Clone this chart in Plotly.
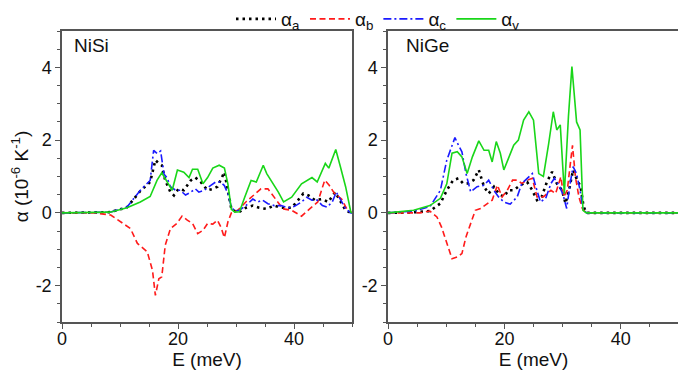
import plotly.graph_objects as go

# ---------------- NiSi (left panel) ----------------
nisi_a_E = [0, 5, 8.3, 11.2, 13.5, 15.2, 16.1, 16.7, 17.2, 17.8, 18.7, 19.3, 20.1, 21, 22.2, 23, 23.9, 25.1, 26, 26.8, 28, 28.6, 29.2, 30.3, 31.7, 32.9, 34, 35.2, 36.6, 37.8, 39.6, 40.7, 41.6, 42.5, 43.6, 44.8, 45.9, 47.1, 48, 48.9, 49.8, 50]
nisi_a = [0, 0, 0.02, 0.15, 0.6, 0.85, 1.45, 1.36, 1.31, 0.89, 0.57, 0.48, 0.66, 0.62, 0.89, 0.97, 0.85, 0.62, 0.66, 0.72, 1.12, 0.62, 0.11, 0, 0.14, 0.2, 0.14, 0.11, 0.2, 0.14, 0.14, 0.35, 0.53, 0.48, 0.35, 0.38, 0.3, 0.57, 0.3, 0.07, 0, 0]

nisi_b_E = [0, 5.6, 8.4, 10.1, 11.8, 13, 14.7, 15.6, 16.1, 16.7, 17.2, 17.8, 18.7, 19.8, 20.7, 21.6, 22.5, 23.4, 24.3, 25.1, 26, 26.8, 27.4, 28, 28.6, 29.2, 30.3, 31.7, 33.1, 34.3, 35.5, 36.6, 38.1, 39.6, 41.3, 42.7, 44.1, 45.3, 46.1, 47, 48.2, 49.1, 50]
nisi_b = [0, 0, -0.06, -0.25, -0.43, -0.84, -1.07, -1.58, -2.27, -1.81, -1.76, -0.89, -0.43, -0.29, -0.09, -0.2, -0.29, -0.57, -0.48, -0.29, -0.31, -0.2, -0.39, -0.68, -0.25, 0, 0.07, 0.3, 0.48, 0.66, 0.66, 0.43, 0.11, 0.07, -0.09, 0.11, 0.3, 0.9, 0.75, 0.53, 0.38, 0.11, 0]

nisi_c_E = [0, 5, 8.3, 11.2, 13.5, 15.2, 15.8, 16.4, 17, 17.6, 18.1, 18.7, 19.6, 20.4, 21.3, 22.2, 23, 23.6, 24.5, 25.6, 26.5, 27.3, 28, 28.6, 29.2, 29.8, 30.6, 31.7, 32.9, 33.7, 34.6, 35.5, 36.6, 37.8, 39, 40.1, 41.3, 42.2, 43.1, 44, 44.9, 45.7, 46.6, 47.3, 48, 48.9, 49.8, 50]
nisi_c = [0, 0, 0.02, 0.16, 0.62, 0.89, 1.72, 1.63, 1.7, 1.06, 0.97, 0.72, 0.62, 0.62, 0.49, 0.57, 0.66, 0.57, 0.62, 0.75, 0.85, 0.85, 0.75, 0.53, 0.16, 0.05, 0.07, 0.2, 0.38, 0.3, 0.35, 0.25, 0.2, 0.2, 0.14, 0.18, 0.3, 0.43, 0.35, 0.35, 0.2, 0.16, 0.3, 0.57, 0.38, 0.11, 0, 0]

nisi_v_E = [0, 5, 8.3, 11.2, 13.5, 15.2, 16.4, 17.2, 19, 19.9, 21, 21.9, 22.5, 23.4, 24.3, 25.1, 26, 27.1, 28, 28.6, 29.2, 29.8, 30.6, 31.5, 32.6, 33.5, 34.7, 35.3, 36.1, 37.3, 38.2, 39.6, 41.3, 42.2, 43.1, 44, 45.4, 46, 47.2, 48, 48.9, 49.8, 50]
nisi_v = [0, 0, 0.02, 0.14, 0.3, 0.45, 0.9, 1.1, 0.62, 1.18, 1.12, 0.97, 1.2, 1.2, 0.8, 0.97, 1.23, 1.31, 1.23, 0.8, 0.1, 0.02, 0.03, 0.43, 0.89, 0.85, 1.31, 1.08, 0.89, 0.57, 0.3, 0.43, 0.8, 0.89, 0.97, 0.85, 1.36, 1.23, 1.74, 1.27, 0.72, 0.02, 0]

# ---------------- NiGe (right panel) ----------------
nige_a_E = [0, 4, 7.2, 9, 10.1, 11.2, 12.1, 12.9, 13.8, 14.7, 15.6, 16.5, 17.3, 18.2, 19, 19.9, 20.7, 21.6, 22.7, 23.9, 24.8, 25.6, 26.4, 27.3, 28.2, 29, 29.9, 30.5, 31.1, 31.8, 32.5, 33.1, 33.6, 34.1, 50]
nige_a = [0, 0.01, 0.05, 0.26, 0.62, 0.9, 0.95, 0.81, 0.81, 0.9, 1.18, 0.72, 0.53, 0.72, 0.53, 0.44, 0.62, 0.62, 0.76, 0.85, 0.62, 0.35, 0.44, 0.85, 1.13, 0.81, 0.62, 0.26, 0.62, 1.18, 0.9, 0.72, 0.17, 0, 0]

nige_b_E = [0, 5.5, 7.2, 8.4, 9.2, 10.1, 11, 11.9, 12.7, 13.4, 14.2, 15, 15.9, 17, 17.9, 18.8, 19.6, 20.5, 21.4, 22.2, 23, 23.9, 24.8, 25.6, 26.7, 28, 28.8, 29.7, 30.2, 30.8, 31.4, 31.7, 32.2, 32.8, 33.4, 34, 50]
nige_b = [0, 0, 0.05, -0.11, -0.39, -0.84, -1.26, -1.21, -1.12, -0.66, -0.29, 0.07, 0.12, 0.26, 0.35, 0.76, 0.44, 0.62, 0.9, 0.9, 0.81, 0.9, 0.95, 0.44, 0.44, 0.62, 0.53, 0.99, 0.44, 0.62, 1.45, 1.86, 0.99, 0.44, 0.12, 0, 0]

nige_c_E = [0, 4.4, 7.2, 9, 10.1, 11.5, 12.1, 12.7, 13.4, 14.2, 15.3, 16.5, 17.3, 18.2, 19, 19.9, 21, 22.2, 23, 23.9, 24.8, 25.4, 26.2, 27.1, 28, 28.6, 29.5, 30.1, 30.7, 31.3, 31.8, 32.4, 33, 33.5, 34.1, 50]
nige_c = [0, 0.05, 0.17, 0.62, 1.45, 2.07, 1.86, 1.68, 1.08, 0.58, 0.72, 0.76, 0.9, 0.62, 0.44, 0.3, 0.24, 0.44, 0.81, 0.95, 1.08, 0.72, 0.3, 0.4, 0.81, 0.95, 0.72, 0.49, 0.12, 0.81, 1.27, 1.08, 0.62, 0.12, 0, 0]

nige_v_E = [0, 4.4, 7.2, 9, 10.1, 11, 11.9, 12.7, 13.6, 14.5, 15.6, 16.5, 17.3, 17.9, 18.6, 19.3, 19.9, 20.7, 21.6, 22.4, 23.3, 24.2, 25, 25.9, 26.7, 27.6, 28.4, 29, 29.6, 30.3, 31, 31.6, 32.4, 33, 33.5, 34.1, 50]
nige_v = [0, 0.07, 0.2, 0.4, 0.8, 1.64, 1.68, 1.54, 1.08, 1.54, 1.98, 1.72, 1.72, 1.4, 1.96, 1.64, 1.18, 1.5, 1.86, 2.0, 2.55, 2.78, 2.55, 1.08, 1.0, 1.9, 2.78, 2.28, 2.42, 0.53, 2.64, 4.02, 2.5, 2.28, 0.07, 0, 0]

series_names = ["α<sub>a</sub>", "α<sub>b</sub>", "α<sub>c</sub>", "α<sub>v</sub>"]
panel_labels = ["NiSi", "NiGe"]
y_tickvals = [-2, 0, 2, 4]
y_ticktext = ["-2", "0", "2", "4"]
x_tickvals = [0, 20, 40]
x_ticktext = ["0", "20", "40"]

colors = ["#000000", "#ff1a1a", "#1a1aff", "#19d619"]
dashes = ["2.5px,4px", "6px,3.5px", "8px,3px,2px,3px", "solid"]
widths = [2.6, 1.6, 1.6, 1.6]

panels = [
    [(nisi_a_E, nisi_a), (nisi_b_E, nisi_b), (nisi_c_E, nisi_c), (nisi_v_E, nisi_v)],
    [(nige_a_E, nige_a), (nige_b_E, nige_b), (nige_c_E, nige_c), (nige_v_E, nige_v)],
]

fig = go.Figure()
for p, data in enumerate(panels):
    xa = "x" if p == 0 else "x2"
    ya = "y" if p == 0 else "y2"
    for i, (ex, ev) in enumerate(data):
        fig.add_trace(go.Scatter(
            x=ex, y=ev, mode="lines", name=series_names[i],
            line=dict(color=colors[i], dash=dashes[i], width=widths[i]),
            xaxis=xa, yaxis=ya, showlegend=(p == 0),
        ))

# page body has an 8px default margin, so the figure is drawn 8px smaller
W, H = 678, 367
L, R, T, B = 54, 7, 23, 53
PW = W - L - R
PH = H - T - B
font = "Liberation Sans, Arial, sans-serif"
axis_common = dict(
    showline=True, linecolor="#555555", linewidth=1.5, mirror=True,
    ticks="outside", ticklen=5, tickwidth=1.2, tickcolor="#555555",
    showgrid=False, zeroline=False, automargin=False,
    tickfont=dict(family=font, size=18, color="#111111"),
)
xaxis_common = dict(axis_common, range=[0, 50], tickvals=x_tickvals, ticktext=x_ticktext,
                    ticklabelstandoff=-5,
                    minor=dict(dtick=5, tick0=0, ticks="outside", ticklen=3, tickcolor="#555555", tickwidth=1),
                    title=dict(text="E (meV)", font=dict(family=font, size=19, color="#111111"), standoff=0))
yaxis_common = dict(axis_common, range=[-3, 5], tickvals=y_tickvals, ticktext=y_ticktext,
                    minor=dict(dtick=0.5, tick0=0, ticks="outside", ticklen=3, tickcolor="#555555", tickwidth=1))

fig.update_layout(
    width=W, height=H,
    margin=dict(l=L, r=R, t=T, b=B, autoexpand=False),
    paper_bgcolor="white", plot_bgcolor="white",
    font=dict(family=font, size=18, color="#111111"),
    xaxis=dict(xaxis_common, domain=[0, 290 / PW], anchor="y"),
    xaxis2=dict(xaxis_common, domain=[326 / PW, 1], anchor="y2"),
    yaxis=dict(yaxis_common, domain=[0, 1], anchor="x",
               title=dict(text="α (10<sup>-6</sup> K<sup>-1</sup>)", font=dict(family=font, size=19, color="#111111"), standoff=6)),
    yaxis2=dict(yaxis_common, domain=[0, 1], anchor="x2"),
    legend=dict(orientation="h", x=(370 - L) / PW, xanchor="center", y=1 + 31 / PH, yanchor="top",
                font=dict(family=font, size=19, color="#111111"),
                bgcolor="rgba(0,0,0,0)", itemwidth=40, tracegroupgap=0),
    showlegend=True,
)

label_x = [0.035, 0.055]
for p, lab in enumerate(panel_labels):
    fig.add_annotation(text=lab, xref=("x domain" if p == 0 else "x2 domain"),
                       yref=("y domain" if p == 0 else "y2 domain"),
                       x=label_x[p], y=0.994, xanchor="left", yanchor="top", showarrow=False,
                       font=dict(family=font, size=19, color="#111111"))

fig.write_html("out.html")
